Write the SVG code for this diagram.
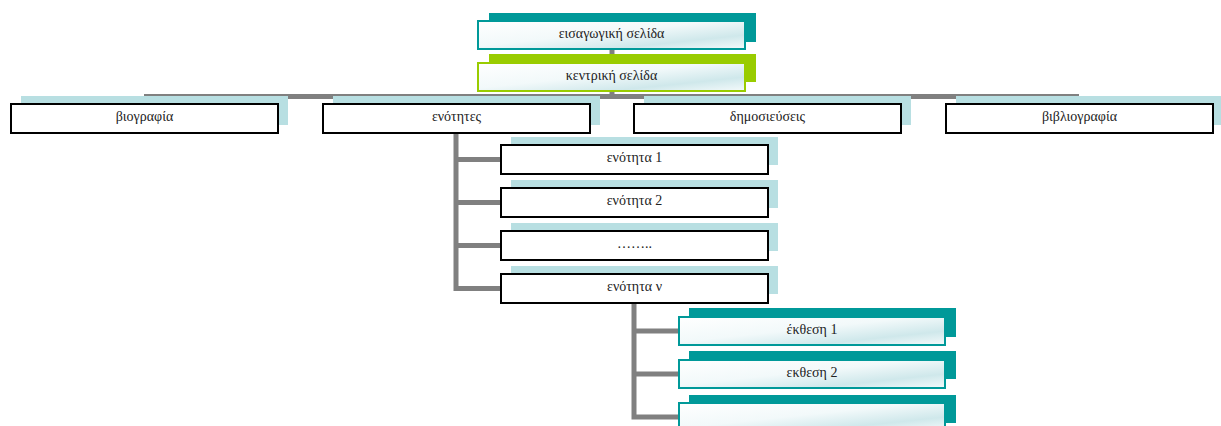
<svg xmlns="http://www.w3.org/2000/svg" width="1221" height="426" viewBox="0 0 1221 426">
<defs>
<linearGradient id="g" x1="0" y1="0" x2="1" y2="1" gradientUnits="objectBoundingBox">
<stop offset="0" stop-color="#ffffff"/>
<stop offset="0.45" stop-color="#f2f9fa"/>
<stop offset="0.75" stop-color="#cfe8eb"/>
<stop offset="1" stop-color="#f4fafb"/>
</linearGradient>
<style>
.t{font-family:"Liberation Serif","Times New Roman","DejaVu Serif",serif;font-size:14px;fill:#222;text-anchor:middle;dominant-baseline:central}
.sh-t{fill:#009999}
.sh-g{fill:#99cc00}
.sh-b{fill:#b8dfe2}
.bx-t{fill:url(#g);stroke:#009999;stroke-width:2}
.bx-g{fill:url(#g);stroke:#99cc00;stroke-width:2}
.bx-b{fill:#ffffff;stroke:#000;stroke-width:2}
.c{stroke:#808080;stroke-width:5;fill:none}
</style>
</defs>
<rect width="1221" height="426" fill="#fff"/>
<g id="connectors">
<line class="c" x1="612" y1="49" x2="612" y2="97"/>
<line class="c" x1="144" y1="96.5" x2="1079" y2="96.5"/>
<polyline class="c" points="456,133 456,288.5 500,288.5"/>
<line class="c" x1="456" y1="159.5" x2="500" y2="159.5"/>
<line class="c" x1="456" y1="202.5" x2="500" y2="202.5"/>
<line class="c" x1="456" y1="245.5" x2="500" y2="245.5"/>
<polyline class="c" points="634,303 634,417 678,417"/>
<line class="c" x1="634" y1="331" x2="678" y2="331"/>
<line class="c" x1="634" y1="374" x2="678" y2="374"/>
</g>
<g id="n-intro">
<rect class="sh-t" x="489" y="13" width="267" height="29"/>
<rect class="bx-t" x="478" y="21" width="267" height="28"/>
<text class="t" x="611.5" y="33.5">εισαγωγική σελίδα</text>
</g>
<g id="n-main">
<rect class="sh-g" x="489" y="54" width="267" height="28"/>
<rect class="bx-g" x="478" y="63" width="267" height="28"/>
<text class="t" x="611.5" y="75.5">κεντρική σελίδα</text>
</g>
<g id="n-bio">
<rect class="sh-b" x="21" y="96" width="267" height="29"/>
<rect class="bx-b" x="11" y="104" width="267" height="29"/>
<text class="t" x="144.5" y="116.5">βιογραφία</text>
</g>
<g id="n-enotites">
<rect class="sh-b" x="333" y="96" width="267" height="29"/>
<rect class="bx-b" x="323" y="104" width="267" height="29"/>
<text class="t" x="456.5" y="116.5">ενότητες</text>
</g>
<g id="n-dim">
<rect class="sh-b" x="644" y="96" width="267" height="29"/>
<rect class="bx-b" x="634" y="104" width="267" height="29"/>
<text class="t" x="767.5" y="116.5">δημοσιεύσεις</text>
</g>
<g id="n-bibl">
<rect class="sh-b" x="956" y="96" width="267" height="29"/>
<rect class="bx-b" x="946" y="104" width="267" height="29"/>
<text class="t" x="1079.5" y="116.5">βιβλιογραφία</text>
</g>
<g id="n-en1">
<rect class="sh-b" x="511" y="137" width="267" height="28"/>
<rect class="bx-b" x="501" y="145" width="267" height="29"/>
<text class="t" x="634.5" y="157.5">ενότητα 1</text>
</g>
<g id="n-en2">
<rect class="sh-b" x="511" y="180" width="267" height="28"/>
<rect class="bx-b" x="501" y="188" width="267" height="29"/>
<text class="t" x="634.5" y="200.5">ενότητα 2</text>
</g>
<g id="n-en3">
<rect class="sh-b" x="511" y="223" width="267" height="28"/>
<rect class="bx-b" x="501" y="231" width="267" height="29"/>
<text class="t" x="634.5" y="243">……..</text>
</g>
<g id="n-enN">
<rect class="sh-b" x="511" y="266" width="267" height="28"/>
<rect class="bx-b" x="501" y="274" width="267" height="29"/>
<text class="t" x="634.5" y="286.5">ενότητα ν</text>
</g>
<g id="n-ek1">
<rect class="sh-t" x="689" y="308" width="267" height="29"/>
<rect class="bx-t" x="679" y="317" width="266" height="28"/>
<text class="t" x="812" y="329.5">έκθεση 1</text>
</g>
<g id="n-ek2">
<rect class="sh-t" x="689" y="351" width="267" height="28"/>
<rect class="bx-t" x="679" y="360" width="266" height="28"/>
<text class="t" x="812" y="372.5">εκθεση 2</text>
</g>
<g id="n-ek3">
<rect class="sh-t" x="689" y="395" width="267" height="28"/>
<rect class="bx-t" x="679" y="403" width="266" height="28"/>
</g>
</svg>
